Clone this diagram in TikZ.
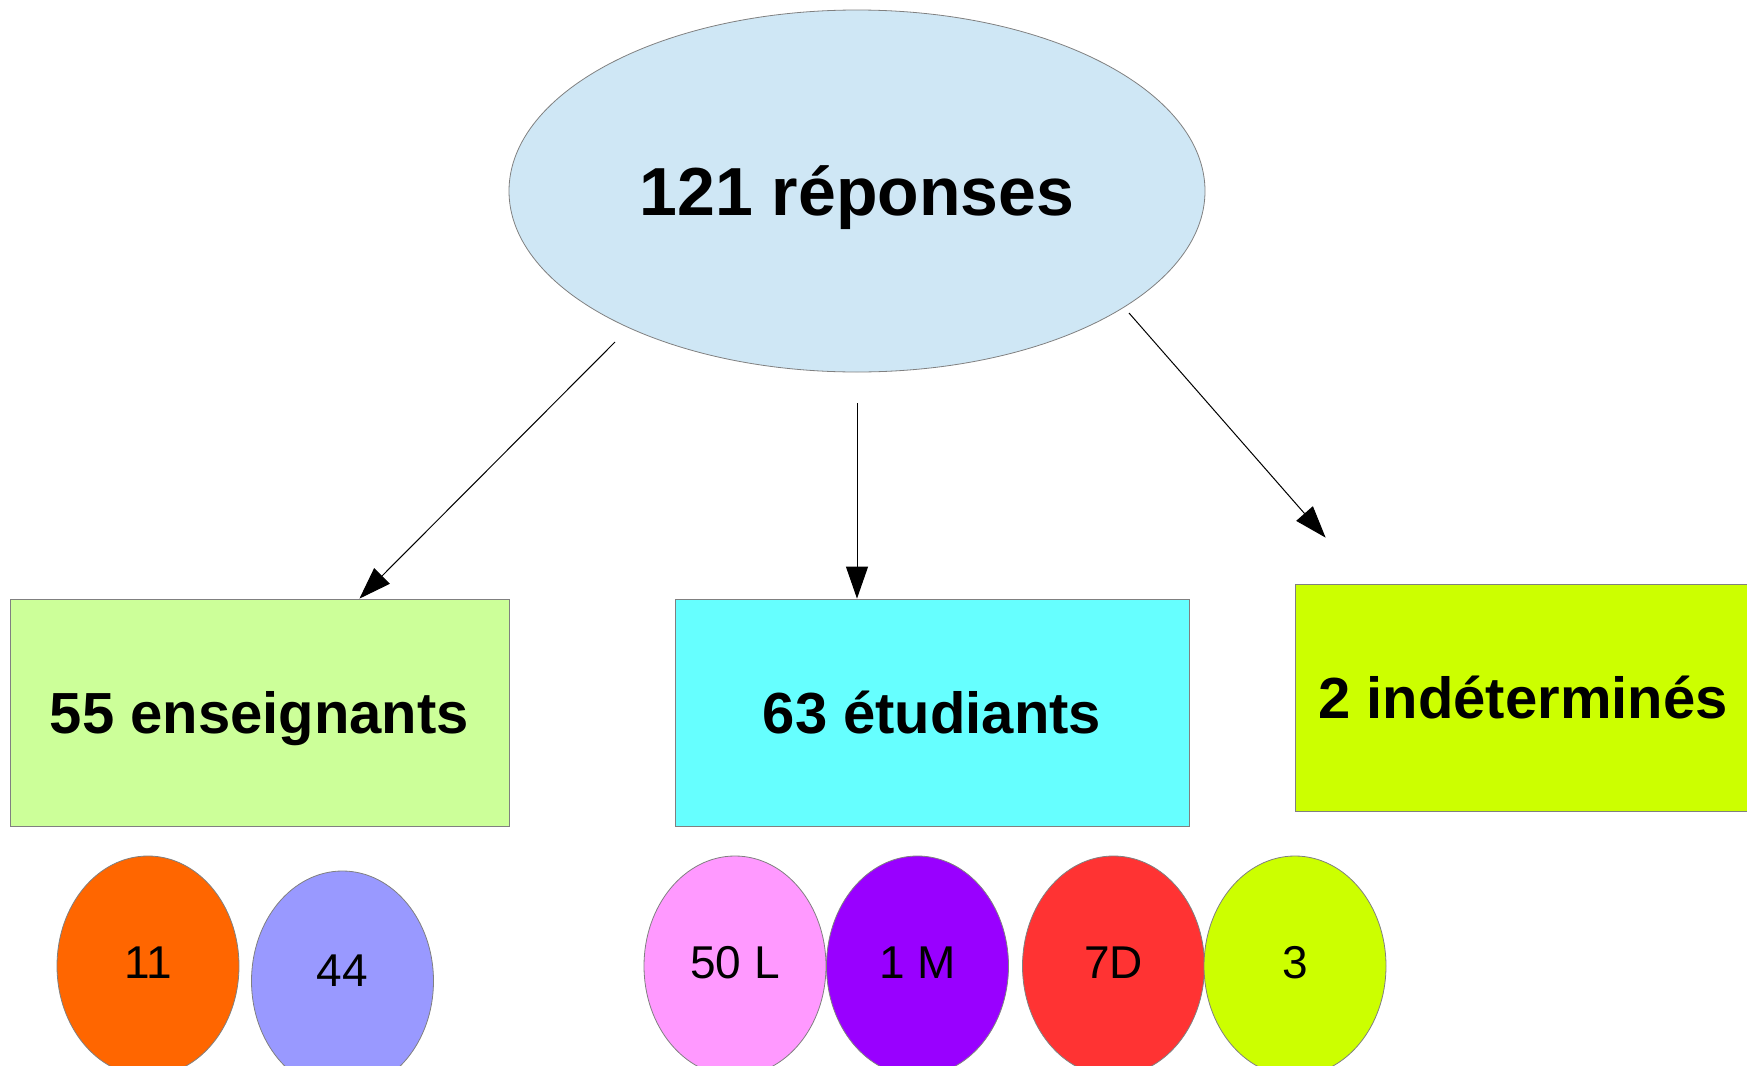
\documentclass[tikz,border=0pt]{standalone}
\usepackage{fontspec}
\setmainfont{Liberation Sans}
\usetikzlibrary{shapes.geometric,arrows.meta,calc}

\definecolor{colorREP}{HTML}{CFE7F5}
\definecolor{colorENS}{HTML}{CCFF99}
\definecolor{colorETU}{HTML}{66FFFF}
\definecolor{colorIND}{HTML}{CCFF00}
\definecolor{colorONZE}{HTML}{FF6600}
\definecolor{colorQUAR}{HTML}{9999FF}
\definecolor{colorLIC}{HTML}{FF99FF}
\definecolor{colorMAS}{HTML}{9900FF}
\definecolor{colorDOC}{HTML}{FF3333}
\colorlet{colorBORD}{gray}
\tikzset{
   every path/.style={>={Triangle[length=16pt,width=11pt]}},
   tot/.style={ellipse,draw=colorBORD,fill=colorREP,inner sep=0pt,minimum width=348pt,minimum height=181pt,
     text height=24.3pt,text depth=0pt,font=\bfseries\fontsize{34}{40}\selectfont},
   cat/.style={rectangle,draw=colorBORD,inner sep=0pt,minimum height=113.5pt,
     text height=20.8pt,text depth=0pt,font=\bfseries\fontsize{29}{34}\selectfont},
   sub/.style={ellipse,draw=colorBORD,inner sep=0pt,minimum width=91pt,minimum height=110pt,
     text height=16.5pt,text depth=4pt,font=\fontsize{23}{28}\selectfont},
   fl/.style={->,draw=black,line width=0.5pt},
 }
\newcommand{\dfl}[2]{\draw[fl] (#1) -- (#2)}

\begin{document}
\begin{tikzpicture}[x=0.5pt,y=-0.5pt]
      \useasboundingbox (0,0) rectangle (1747,1066);
      \node[tot] (rep) at (857,191) {121 réponses};

      \node[cat,fill=colorENS,minimum width=249.5pt] (ens) at (259.5,712.5) {55 enseignants};
      \node[cat,fill=colorETU,minimum width=257pt] (etu) at (932,712.5) {63 étudiants};
      \node[cat,fill=colorIND,minimum width=228pt] (ind) at (1523,697.5) {2 indéterminés};

      \node[sub,fill=colorONZE] (e11) at (148,966) {11};
      \node[sub,fill=colorQUAR,text depth=11pt] (e44) at (342.5,981) {44};

      \node[sub,fill=colorLIC] (l50) at (735,966) {50 L};
      \node[sub,fill=colorMAS] (m1) at (917.5,966) {1 M};
      \node[sub,fill=colorDOC] (d7) at (1113.5,966) {7D};
      \node[sub,fill=colorIND] (s3) at (1295,966) {3};

      \coordinate (rep-g) at ($(rep)+(-242,151)$);
      \coordinate (rep-b) at ($(rep.south)+(0,31)$);
      \coordinate (rep-d) at ($(rep)+(272,122)$);
      \coordinate (ind-h) at ($(ind.north west)+(31,-46)$);

      \dfl{rep-g}{$(ens.north west)!0.7!(ens.north east)$};
      \dfl{rep-b}{rep.south |- etu.north};
      \dfl{rep-d}{ind-h};
    \end{tikzpicture}
\end{document}
